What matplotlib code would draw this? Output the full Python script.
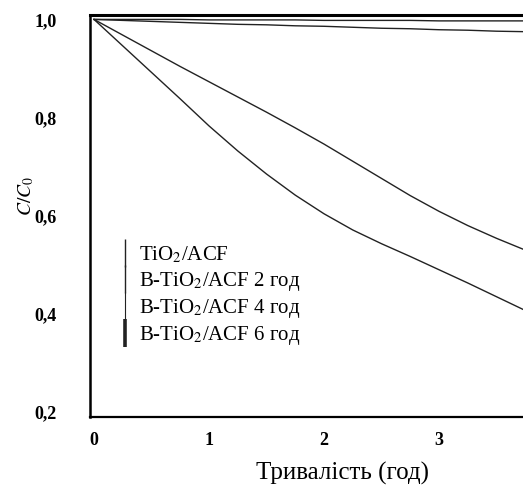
import matplotlib
matplotlib.use('Agg')
import matplotlib.pyplot as plt
import matplotlib.ticker as mticker
from matplotlib.lines import Line2D

# --- data ---
hours = [0, 0.25, 0.5, 0.75, 1, 1.25, 1.5, 1.75, 2, 2.25, 2.5, 2.75, 3, 3.25, 3.5, 3.75, 4]
tio2_acf = [1.0, 1.0, 1.0, 1.0, 0.999, 0.999, 0.999, 0.999, 0.998, 0.998, 0.998, 0.998,
            0.997, 0.997, 0.997, 0.997, 0.996]
b_tio2_2h = [1.0, 0.998, 0.996, 0.994, 0.992, 0.99, 0.989, 0.987, 0.986, 0.984, 0.982, 0.981,
             0.979, 0.978, 0.976, 0.975, 0.973]
b_tio2_4h = [1.0, 0.968, 0.936, 0.904, 0.873, 0.842, 0.811, 0.779, 0.746, 0.711, 0.676, 0.641,
             0.609, 0.58, 0.554, 0.53, 0.507]
b_tio2_6h = [1.0, 0.946, 0.892, 0.838, 0.783, 0.732, 0.685, 0.642, 0.604, 0.571, 0.543, 0.517,
             0.49, 0.463, 0.435, 0.407, 0.38]
labels = ['TiO$_2$/ACF', 'B-TiO$_2$/ACF 2 год', 'B-TiO$_2$/ACF 4 год', 'B-TiO$_2$/ACF 6 год']
x_ticks = [0, 1, 2, 3]
y_ticks = [0.2, 0.4, 0.6, 0.8, 1.0]

matplotlib.rc('font', family='Liberation Serif')
matplotlib.rc('mathtext', fontset='stix')

fig = plt.figure(figsize=(5.23, 4.93), dpi=100)
ax = fig.add_axes([90/523, 1-417/493, 1-90/523, (417-15)/493])

for vals in [tio2_acf, b_tio2_2h, b_tio2_4h, b_tio2_6h]:
    ax.plot(hours, vals, color='#222222', linewidth=1.0)

ax.set_xlim(-0.035, 3.73)
ax.set_ylim(0.19, 1.009)
ax.set_xticks(x_ticks)
ax.set_yticks(y_ticks)
ax.yaxis.set_major_formatter(mticker.FuncFormatter(lambda v, p: f'{v:.1f}'.replace('.', ',')))
ax.tick_params(length=0, labelsize=13)
ax.tick_params(axis='y', pad=24)
ax.tick_params(axis='x', pad=11)
for lab in ax.get_xticklabels() + ax.get_yticklabels():
    lab.set_fontweight('bold')

ax.spines['right'].set_visible(False)
ax.spines['top'].set_linewidth(2.2)
ax.spines['left'].set_linewidth(1.8)
ax.spines['bottom'].set_linewidth(1.6)

ax.set_xlabel('Тривалість (год)', fontsize=18)
ax.xaxis.set_label_coords((343-90)/433, -(462-417)/402)
ax.set_ylabel('$C/C_0$', fontsize=14)
ax.yaxis.set_label_coords(-(90-36)/433, (417-196)/402)

widths = [1.0, 1.0, 0.8, 2.6]
handles = [Line2D([], [], linestyle='none', marker='|', markersize=20,
                  markeredgewidth=w, color='#222222') for w in widths]
ax.legend(handles, labels, loc='upper left', bbox_to_anchor=((121-90)/433, (417-245)/402),
          frameon=False, fontsize=15, handlelength=0.4, handletextpad=0.45,
          labelspacing=0.2, borderpad=0, borderaxespad=0)

fig.savefig('out.png', dpi=100)
